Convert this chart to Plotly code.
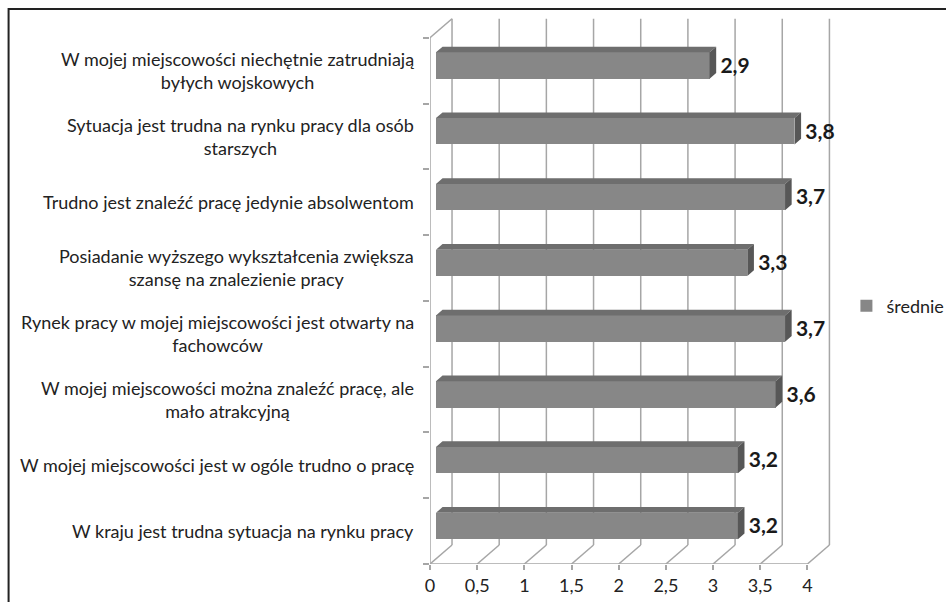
import plotly.graph_objects as go

# ---- data (top to bottom as in the reference) ----
categories = [
    "W mojej miejscowości niechętnie zatrudniają<br>byłych wojskowych",
    "Sytuacja jest trudna na rynku pracy dla osób<br>starszych",
    "Trudno jest znaleźć pracę jedynie absolwentom",
    "Posiadanie wyższego wykształcenia zwiększa<br>szansę na znalezienie pracy",
    "Rynek pracy w mojej miejscowości jest otwarty na<br>fachowców",
    "W mojej miejscowości można znaleźć pracę, ale<br>mało atrakcyjną",
    "W mojej miejscowości jest w ogóle trudno o pracę",
    "W kraju jest trudna sytuacja na rynku pracy",
]
values = [2.9, 3.8, 3.7, 3.3, 3.7, 3.6, 3.2, 3.2]
series_name = "średnie"
x_ticks = [0, 0.5, 1, 1.5, 2, 2.5, 3, 3.5, 4]

# ---- geometry / style ----
W, H = 946, 602
L, R, T, B = 430, 115.4, 18, 38
XMAX, YMIN, YMAX = 4.25, -0.5, 7.8
DX, DY = 0.2334, 0.289          # full depth of the 3D box, in data units
F0, F1 = 0.27, 0.30             # bar front position / bar depth as fraction
OX, OY = DX * F0, DY * F0
BX, BY = DX * F1, DY * F1
BW = 0.4
LABEL_GAP = 0.045
FONT = "Lato"
TXT = "#222222"
GRID = "#a6a6a6"

n = len(values)
pos = [n - 1 - i for i in range(n)]  # top category gets highest position
ycent = [p + OY for p in pos]

fig = go.Figure()

shapes = []
def seg(x0, y0, x1, y1, color=GRID, w=1.5, layer="below"):
    shapes.append(dict(type="line", xref="x", yref="y", x0=x0, y0=y0, x1=x1, y1=y1,
                       line=dict(color=color, width=w), layer=layer))

ylo, yhi = -0.5, n - 0.5
for t in x_ticks:
    seg(t + DX, ylo + DY, t + DX, yhi + DY)      # back wall gridlines
    seg(t, ylo, t + DX, ylo + DY)                # floor diagonals
seg(0, ylo, x_ticks[-1], ylo)                    # front x axis
seg(0, ylo, 0, yhi)                              # front left edge
seg(0, yhi, DX, yhi + DY)                        # left wall top edge

# front faces
fig.add_trace(go.Bar(
    orientation="h", x=values, y=ycent, base=[OX] * n, width=BW,
    marker=dict(color="#878787", line=dict(width=0)), name=series_name,
    showlegend=True, hoverinfo="skip",
))

# top and side faces
top_x, top_y, side_x, side_y = [], [], [], []
for v, yc in zip(values, ycent):
    yt, yb = yc + BW / 2, yc - BW / 2
    xe = v + OX
    top_x += [OX, xe, xe + BX, OX + BX, OX, None]
    top_y += [yt, yt, yt + BY, yt + BY, yt, None]
    side_x += [xe, xe, xe + BX, xe + BX, xe, None]
    side_y += [yb, yt, yt + BY, yb + BY, yb, None]
fig.add_trace(go.Scatter(x=top_x, y=top_y, mode="lines", fill="toself",
                         fillcolor="#6e6e6e", line=dict(width=0, color="#6e6e6e"),
                         showlegend=False, hoverinfo="skip"))
fig.add_trace(go.Scatter(x=side_x, y=side_y, mode="lines", fill="toself",
                         fillcolor="#575757", line=dict(width=0, color="#575757"),
                         showlegend=False, hoverinfo="skip"))

# data labels
fig.add_trace(go.Scatter(
    x=[v + OX + BX + LABEL_GAP for v in values], y=[y - 0.03 for y in ycent], mode="text",
    text=[f"{v:.1f}".replace(".", ",") for v in values],
    textposition="middle right", cliponaxis=False,
    textfont=dict(family=FONT, size=21, color="#1a1a1a", weight="bold"),
    showlegend=False, hoverinfo="skip",
))

# category labels
pw = W - L - R
ph = H - T - B
annotations = []
for c, p in zip(categories, pos):
    annotations.append(dict(
        text=c, x=(416 - L) / pw, xref="paper", y=p, yref="y",
        xanchor="right", yanchor="middle", align="center", showarrow=False,
        font=dict(family=FONT, size=18, color=TXT),
    ))

# outer frame
shapes.append(dict(type="rect", xref="paper", yref="paper",
                   x0=(9 - L) / pw, x1=(960 - L) / pw,
                   y0=(H - B - 620) / ph, y1=(H - B - 9) / ph,
                   line=dict(color="#222222", width=2), fillcolor="rgba(0,0,0,0)",
                   layer="below"))

fig.update_layout(
    width=W, height=H, autosize=False,
    margin=dict(l=L, r=R, t=T, b=B, pad=0, autoexpand=False),
    paper_bgcolor="white", plot_bgcolor="white",
    separators=", ",
    font=dict(family=FONT, size=18, color=TXT),
    shapes=shapes, annotations=annotations,
    bargap=0,
    legend=dict(x=(846 - L) / pw, y=(H - B - 306) / ph, xanchor="left", yanchor="middle",
                font=dict(family=FONT, size=18, color=TXT),
                bgcolor="rgba(0,0,0,0)", itemwidth=30),
    xaxis=dict(range=[0, XMAX], tickvals=x_ticks, ticks="outside", ticklen=5,
               tickcolor=GRID, tickwidth=1.5, showgrid=False, zeroline=False,
               showline=False, tickfont=dict(family=FONT, size=18, color=TXT)),
    yaxis=dict(range=[YMIN, YMAX], tickvals=[k - 0.5 for k in range(n + 1)],
               ticks="outside", ticklen=6, tickcolor=GRID, tickwidth=1.5,
               showticklabels=False, showgrid=False, zeroline=False, showline=False),
)

fig.write_html("out.html")
